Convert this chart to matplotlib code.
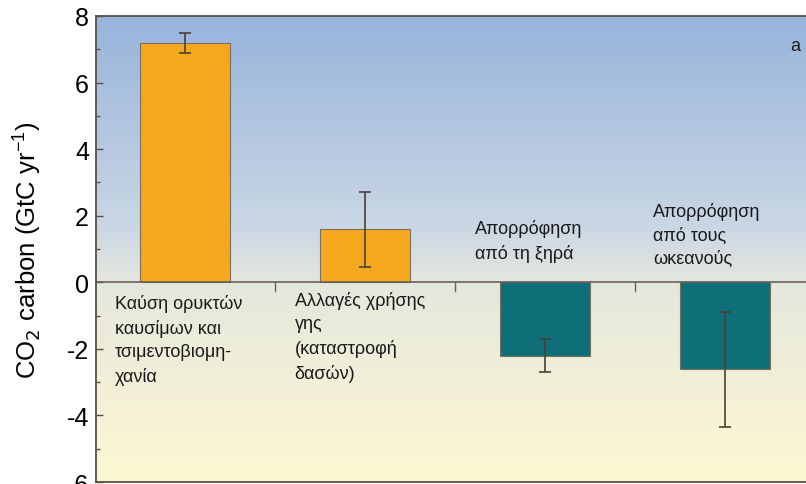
import numpy as np
import matplotlib
matplotlib.use("Agg")
import matplotlib.pyplot as plt
from matplotlib.colors import LinearSegmentedColormap

plt.rcParams['font.family'] = ['Liberation Sans', 'DejaVu Sans']
plt.rcParams['axes.unicode_minus'] = False

# Global carbon budget components
labels = [
    "Καύση ορυκτών\nκαυσίμων και\nτσιμεντοβιομη-\nχανία",
    "Αλλαγές χρήσης\nγης\n(καταστροφή\nδασών)",
    "Απορρόφηση\nαπό τη ξηρά",
    "Απορρόφηση\nαπό τους\nωκεανούς",
]
values = [7.2, 1.6, -2.2, -2.6]
err_low = [6.9, 0.45, -2.7, -4.35]
err_high = [7.5, 2.7, -1.7, -0.9]
bar_colors = ["#F5A81E", "#F5A81E", "#0F6F78", "#0F6F78"]
yticks = [-6, -4, -2, 0, 2, 4, 6, 8]

fig = plt.figure(figsize=(8.06, 4.85), dpi=100)
ax = fig.add_axes([0.119, 0.004, 0.881, 0.961])

xmin, xmax = -0.494, 3.45
ymin, ymax = -6, 8
ax.set_xlim(xmin, xmax)
ax.set_ylim(ymin, ymax)

# Vertical background gradient: blue at top, pale at zero, cream at bottom
cmap = LinearSegmentedColormap.from_list(
    "bg", [(0.0, "#FEF8D2"), (6 / 14, "#E4E7DD"), (0.55, "#C9D6E4"), (1.0, "#97B4DC")])
grad = np.linspace(0, 1, 256).reshape(-1, 1)
ax.imshow(grad, aspect="auto", cmap=cmap, origin="lower",
          extent=[xmin, xmax, ymin, ymax], zorder=0)

x = np.arange(len(values))
ax.bar(x, values, width=0.5, color=bar_colors, edgecolor="#7a7060",
       linewidth=0.8, zorder=2)
yerr = [np.array(values) - np.array(err_low), np.array(err_high) - np.array(values)]
ax.errorbar(x, values, yerr=yerr, fmt="none", ecolor="#4a4038",
            elinewidth=1.2, capsize=4, capthick=1.2, zorder=3)

ax.axhline(0, color="#6a6058", linewidth=1.2, zorder=2.5)
for sep in [0.5, 1.5, 2.5]:
    ax.plot([sep, sep], [0, -0.25], color="#6a6058", linewidth=1, zorder=2.5)

# Category labels
lab_kw = dict(fontsize=13, color="#1a1a1a", linespacing=1.5, zorder=4)
ax.text(-0.39, -0.35, labels[0], ha="left", va="top", **lab_kw)
ax.text(0.61, -0.25, labels[1], ha="left", va="top", **lab_kw)
ax.text(1.61, 0.6, labels[2], ha="left", va="bottom", **lab_kw)
ax.text(2.6, 0.45, labels[3], ha="left", va="bottom", **lab_kw)
ax.text(3.36, 7.1, "a", ha="left", va="center", fontsize=13, color="#1a1a1a")

ax.set_yticks(yticks)
ax.set_yticks(np.arange(-5, 8, 2), minor=True)
ax.set_xticks([])
ax.tick_params(axis="y", which="major", direction="in", length=5, width=1,
               labelsize=18, color="#5a5048", pad=5)
ax.tick_params(axis="y", which="minor", direction="in", length=3, width=1,
               color="#5a5048")
ax.set_ylabel("CO$_2$ carbon (GtC yr$^{\\mathregular{-1}}$)", fontsize=18.5)
ax.yaxis.set_label_coords(-0.074, 0.5)

for side in ["left", "bottom", "top"]:
    ax.spines[side].set_color("#5a5048")
    ax.spines[side].set_linewidth(1.3)
ax.spines["right"].set_visible(False)

fig.savefig("out.png", dpi=100)
